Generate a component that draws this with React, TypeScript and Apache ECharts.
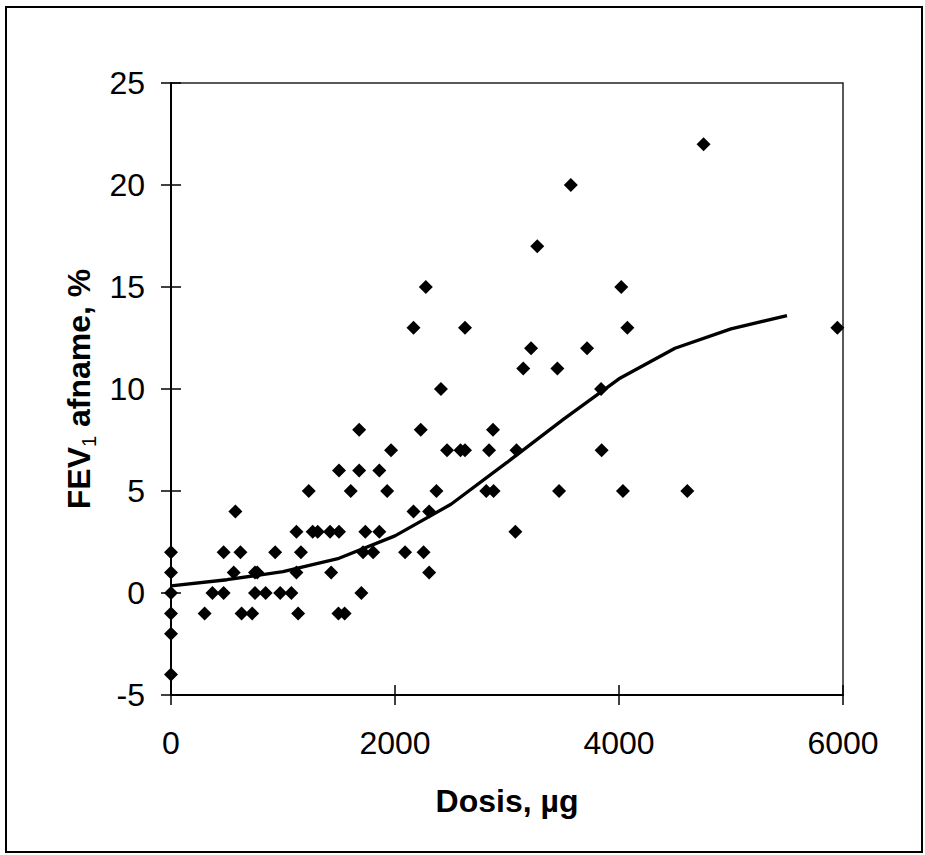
import React, { useEffect, useRef } from "react";
import * as echarts from "echarts";

const doseX: number[] = [
  0, 0, 0, 0, 0, 0,
  300, 370, 470, 470, 560, 575, 620, 630, 725, 750, 770, 750, 845, 930, 975, 1075,
  1120, 1120, 1135, 1160, 1230, 1265, 1310, 1420, 1430, 1495, 1500, 1500, 1550,
  1605, 1680, 1680, 1700, 1715, 1735, 1805, 1860, 1860, 1930, 1965, 2090, 2165,
  2165, 2230, 2255, 2275, 2305, 2305, 2370, 2410, 2465, 2585, 2625, 2625, 2815,
  2840, 2875, 2880, 3075, 3085, 3145, 3215, 3270, 3450, 3465, 3570, 3715, 3840,
  3845, 4020, 4035, 4075, 4610, 4755, 5950,
];
const fevY: number[] = [
  2, 1, 0, -1, -2, -4,
  -1, 0, 0, 2, 1, 4, 2, -1, -1, 1, 1, 0, 0, 2, 0, 0,
  3, 1, -1, 2, 5, 3, 3, 3, 1, -1, 3, 6, -1,
  5, 6, 8, 0, 2, 3, 2, 3, 6, 5, 7, 2, 4,
  13, 8, 2, 15, 4, 1, 5, 10, 7, 7, 7, 13, 5,
  7, 8, 5, 3, 7, 11, 12, 17, 11, 5, 20, 12, 10,
  7, 15, 5, 13, 5, 22, 13,
];
const curveX: number[] = [0, 500, 1000, 1500, 2000, 2500, 3000, 3500, 4000, 4500, 5000, 5500];
const curveY: number[] = [0.35, 0.65, 1.05, 1.7, 2.8, 4.35, 6.4, 8.5, 10.5, 12.0, 12.95, 13.6];

const xTitle = "Dosis, µg";
const FONT = "Arial, 'Liberation Sans', Helvetica, sans-serif";

export default function App() {
  const ref = useRef<HTMLDivElement>(null);
  useEffect(() => {
    document.body.style.margin = "0";
    if (!ref.current) return;
    const chart = echarts.init(ref.current, undefined, { renderer: "svg" });
    const scatter = doseX.map((x, i) => [x, fevY[i]]);
    const curve = curveX.map((x, i) => [x, curveY[i]]);
    const tickLen = 10;
    const baseX = { type: "value", min: 0, max: 6000, interval: 2000 };
    const baseY = { type: "value", min: -5, max: 25, interval: 5 };
    chart.setOption({
      animation: false,
      backgroundColor: "#fff",
      textStyle: { fontFamily: FONT },
      grid: {
        left: 171,
        top: 83,
        right: 82,
        bottom: 160,
        show: true,
        borderColor: "#222",
        borderWidth: 1.5,
        backgroundColor: "transparent",
      },
      graphic: [
        {
          type: "rect",
          shape: { x: 6, y: 7, width: 916, height: 845 },
          style: { fill: "none", stroke: "#000", lineWidth: 2 },
          silent: true,
          z: -10,
        },
      ],
      xAxis: [
        {
          ...baseX,
          position: "bottom",
          name: xTitle,
          nameLocation: "middle",
          nameGap: 90,
          nameTextStyle: { fontSize: 32, fontWeight: "bold", color: "#000", fontFamily: FONT },
          axisLine: { show: true, onZero: false, lineStyle: { color: "#000", width: 2 } },
          axisTick: { show: true, inside: false, length: tickLen, lineStyle: { color: "#000", width: 1.5 } },
          axisLabel: { fontSize: 32, color: "#000", margin: 32, fontFamily: FONT, formatter: (v: number) => String(v) },
          splitLine: { show: false },
        },
        {
          ...baseX,
          position: "bottom",
          axisLine: { show: false, onZero: false },
          axisTick: { show: true, inside: true, length: tickLen, lineStyle: { color: "#000", width: 1.5 } },
          axisLabel: { show: false },
          splitLine: { show: false },
        },
      ],
      yAxis: [
        {
          ...baseY,
          position: "left",
          name: "{b|FEV}{s|1}{b| afname, %}",
          nameLocation: "middle",
          nameRotate: 90,
          nameGap: 62,
          nameTextStyle: {
            rich: {
              b: { fontSize: 32, fontWeight: "bold", color: "#000", fontFamily: FONT, lineHeight: 40 },
              s: { fontSize: 20, fontWeight: "normal", color: "#000", fontFamily: FONT, lineHeight: 22, verticalAlign: "bottom" },
            },
          },
          axisLine: { show: true, onZero: false, lineStyle: { color: "#000", width: 2 } },
          axisTick: { show: true, inside: false, length: tickLen, lineStyle: { color: "#000", width: 1.5 } },
          axisLabel: { fontSize: 32, color: "#000", margin: 26, fontFamily: FONT },
          splitLine: { show: false },
        },
        {
          ...baseY,
          position: "left",
          axisLine: { show: false, onZero: false },
          axisTick: { show: true, inside: true, length: tickLen, lineStyle: { color: "#000", width: 1.5 } },
          axisLabel: { show: false },
          splitLine: { show: false },
        },
      ],
      series: [
        {
          type: "scatter",
          data: scatter,
          symbol: "diamond",
          symbolSize: 14,
          itemStyle: { color: "#000", opacity: 1 },
          clip: false,
          z: 3,
        },
        {
          type: "line",
          data: curve,
          showSymbol: false,
          symbol: "none",
          lineStyle: { color: "#000", width: 3.3 },
          z: 4,
        },
      ],
    });
    return () => chart.dispose();
  }, []);
  return <div ref={ref} style={{ width: 925, height: 855 }} />;
}
